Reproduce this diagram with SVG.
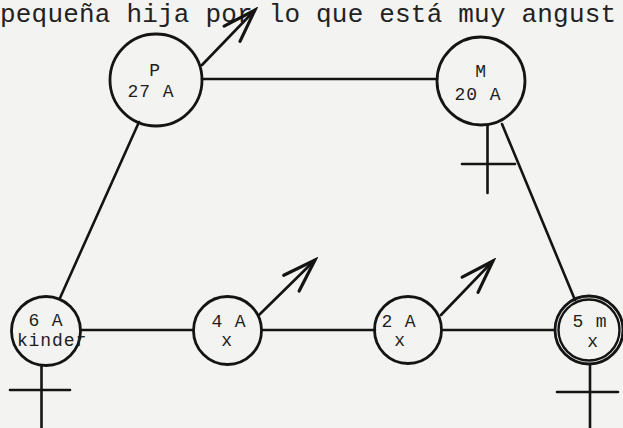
<svg xmlns="http://www.w3.org/2000/svg" width="623" height="428" viewBox="0 0 623 428">
<style>
.bg{fill:#f3f3f1}
.node{fill:none;stroke:#141414;stroke-width:2.8}
.ln{fill:none;stroke:#141414;stroke-width:2.6;stroke-linecap:round}
.lbl{font-family:"Liberation Mono","Courier New",monospace;font-size:18px;letter-spacing:0.9px;fill:#1e1e1e;text-anchor:middle}
.top{font-family:"Liberation Mono","Courier New",monospace;font-size:26px;letter-spacing:0.2px;fill:#222}
</style>
<defs>
<marker id="open" viewBox="-38 -14 42 28" refX="0" refY="0" markerWidth="42" markerHeight="28" markerUnits="userSpaceOnUse" orient="auto">
<path d="M-33,-11 L0,0 L-33,11" fill="none" stroke="#141414" stroke-width="3.2" stroke-linecap="round" stroke-linejoin="miter"/>
</marker>
</defs>
<rect class="bg" x="0" y="0" width="623" height="428"/>
<text class="top" x="0" y="22">pequeña hija por lo que está muy angust</text>
<g id="connectors">
<line class="ln" x1="202" y1="79" x2="437" y2="79"/>
<line class="ln" x1="139" y1="122" x2="60" y2="298"/>
<line class="ln" x1="502" y1="124" x2="575" y2="300"/>
<line class="ln" x1="81" y1="330" x2="193" y2="330"/>
<line class="ln" x1="262" y1="330" x2="375" y2="330"/>
<line class="ln" x1="442" y1="330" x2="555" y2="330"/>
<line class="ln" x1="202" y1="65" x2="255" y2="10" marker-end="url(#open)"/>
<line class="ln" x1="259" y1="315" x2="315" y2="260" marker-end="url(#open)"/>
<line class="ln" x1="441" y1="315" x2="493" y2="261" marker-end="url(#open)"/>
</g>
<g id="node-P">
<circle class="node" cx="156" cy="80" r="46"/>
<text class="lbl" x="155" y="76">P</text>
<text class="lbl" x="151" y="97">27 A</text>
</g>
<g id="node-M">
<circle class="node" cx="481" cy="81" r="44"/>
<text class="lbl" x="481" y="77">M</text>
<text class="lbl" x="478" y="100">20 A</text>
<line class="ln" x1="487.5" y1="125" x2="487.5" y2="193"/>
<line class="ln" x1="462" y1="164" x2="515" y2="164"/>
</g>
<g id="node-6A">
<circle class="node" cx="46" cy="331" r="34.5"/>
<text class="lbl" x="46" y="326">6 A</text>
<text class="lbl" x="52" y="345.5">kinder</text>
<line class="ln" x1="41.5" y1="366" x2="41.5" y2="430"/>
<line class="ln" x1="10" y1="390" x2="70" y2="390"/>
</g>
<g id="node-4A">
<circle class="node" cx="227.5" cy="330.5" r="34"/>
<text class="lbl" x="229" y="327">4 A</text>
<text class="lbl" x="227" y="346">x</text>
</g>
<g id="node-2A">
<circle class="node" cx="408" cy="330" r="33.5"/>
<text class="lbl" x="399" y="327">2 A</text>
<text class="lbl" x="400" y="346">x</text>
</g>
<g id="node-5m">
<circle class="node" cx="589" cy="330" r="34"/>
<circle class="node" cx="589" cy="330" r="30.5" style="stroke-width:2.4"/>
<text class="lbl" x="590" y="327">5 m</text>
<text class="lbl" x="593" y="346.5">x</text>
<line class="ln" x1="590" y1="364" x2="590" y2="430"/>
<line class="ln" x1="557" y1="392" x2="618" y2="392"/>
</g>
</svg>
